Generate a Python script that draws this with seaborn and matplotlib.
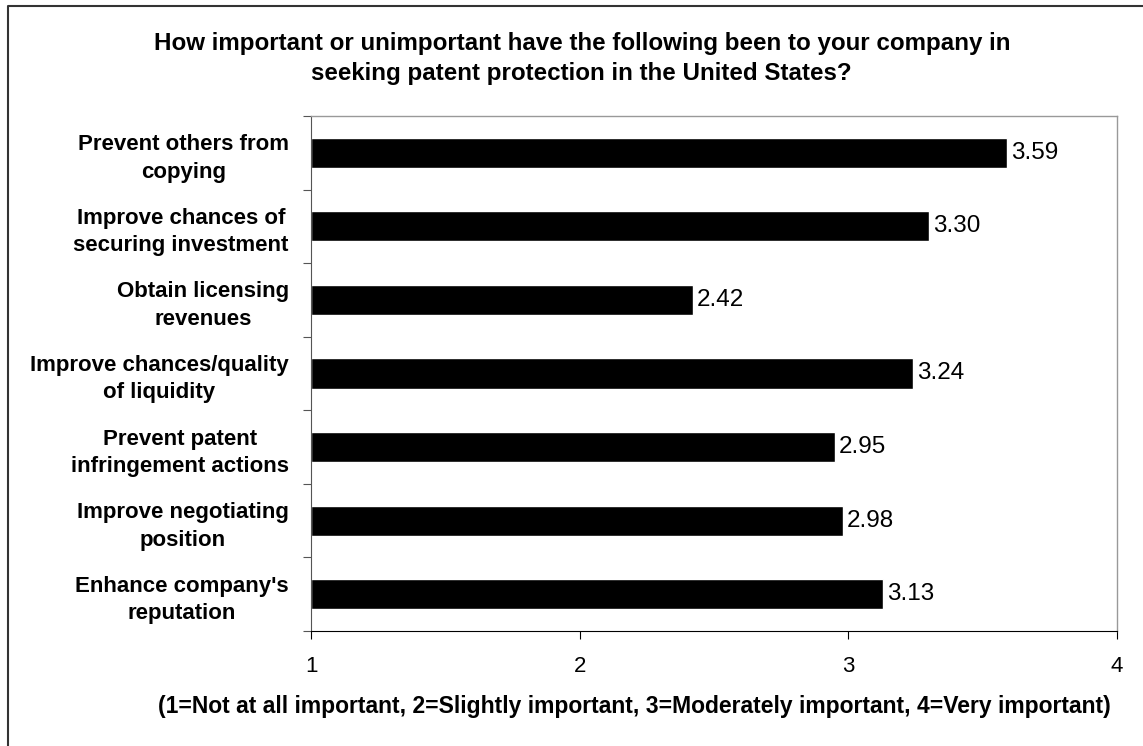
import pandas as pd
import matplotlib
matplotlib.use("Agg")
import matplotlib.pyplot as plt
import seaborn as sns

categories = [
    "Prevent others from\ncopying",
    "Improve chances of\nsecuring investment",
    "Obtain licensing\nrevenues",
    "Improve chances/quality\nof liquidity",
    "Prevent patent\ninfringement actions",
    "Improve negotiating\nposition",
    "Enhance company's\nreputation",
]
scores = [3.59, 3.30, 2.42, 3.24, 2.95, 2.98, 3.13]
xticks = [1, 2, 3, 4]

df = pd.DataFrame({"reason": categories, "score": scores})

sns.set_style("white")
plt.rcParams["font.family"] = ["Liberation Sans", "DejaVu Sans"]
plt.rcParams["text.color"] = "black"
plt.rcParams["xtick.color"] = "black"
plt.rcParams["ytick.color"] = "black"
plt.rcParams["axes.labelcolor"] = "black"

fig = plt.figure(figsize=(11.43, 7.46), dpi=100)
ax = fig.add_axes([0.2721, 0.1542, 0.7052, 0.6903])

sns.barplot(data=df, x="score", y="reason", color="black", saturation=1,
            width=0.41, orient="h", ax=ax)
# bars start at the left edge of the scale (1), not at 0
for p in ax.patches:
    w = p.get_width()
    p.set_x(1)
    p.set_width(w - 1)

for i, v in enumerate(scores):
    ax.annotate(f"{v:.2f}", (v, i), xytext=(3, 0), textcoords="offset points",
                va="center", ha="left", fontsize=17.5)

ax.set_xlim(1, 4)
ax.set_ylim(len(categories) - 0.5, -0.5)
ax.set_xticks(xticks)
ax.set_xticklabels([str(t) for t in xticks], fontsize=16)
ax.set_yticks([i - 0.5 for i in range(len(categories) + 1)], minor=False)
ax.set_yticklabels([])
ax.set_yticks(range(len(categories)), minor=True)
ax.set_yticklabels(categories, minor=True, fontsize=16, fontweight="bold",
                   multialignment="center", linespacing=1.4)
ax.tick_params(axis="y", which="minor", left=False, length=0, pad=16)
ax.tick_params(axis="y", which="major", left=True, length=6, direction="out", color="#555555")
ax.tick_params(axis="x", bottom=True, length=6, direction="out", pad=12)
ax.set_xlabel("")
ax.set_ylabel("")

for side in ["top", "right"]:
    ax.spines[side].set_color("#999999")
    ax.spines[side].set_linewidth(1)
ax.spines["left"].set_color("#555555")
ax.spines["bottom"].set_color("black")

fig.text(0.509, 0.922,
         "How important or unimportant have the following been to your company in\n"
         "seeking patent protection in the United States?",
         ha="center", va="center", fontsize=17.4, fontweight="bold", linespacing=1.4)

fig.text(0.5547, 0.0536,
         "(1=Not at all important, 2=Slightly important, 3=Moderately important, 4=Very important)",
         ha="center", va="center", fontsize=16.5, fontweight="bold")

# frame of the chart area: only top and left edges are visible
fig.add_artist(plt.Line2D([0.0066, 0.0066, 1.0], [0.0, 0.9913, 0.9913], transform=fig.transFigure,
                          color="#333333", linewidth=1.5))

fig.savefig("out.png", dpi=100)
